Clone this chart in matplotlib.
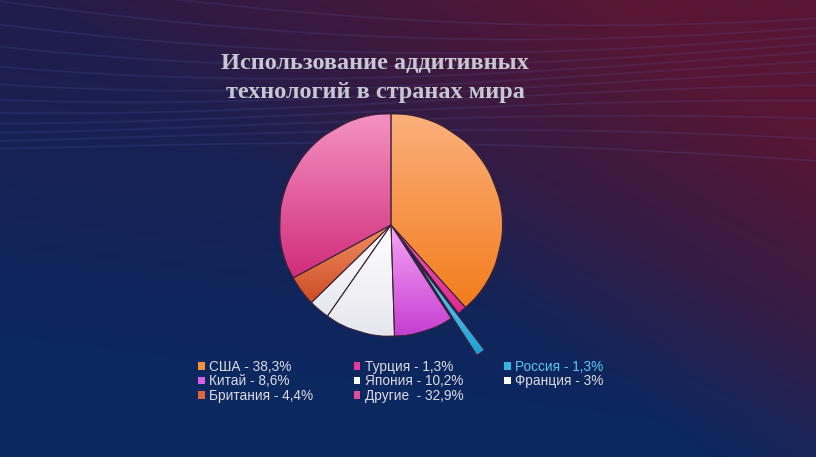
import numpy as np
import matplotlib
matplotlib.use('Agg')
from matplotlib import pyplot as plt
from matplotlib.colors import LinearSegmentedColormap
from matplotlib.patches import Patch

# data
labels = ['США - 38,3%', 'Турция - 1,3%', 'Россия - 1,3%', 'Китай - 8,6%',
          'Япония - 10,2%', 'Франция - 3%', 'Британия - 4,4%', 'Другие  - 32,9%']
shares = [38.3, 1.3, 1.3, 8.6, 10.2, 3.0, 4.4, 32.9]
explode = [0, 0, 0.45, 0, 0, 0, 0, 0]
# (top colour, bottom colour) for the shaded slices
colors_top = ['#fbb07c', '#f35cb6', '#6ad6f7', '#f8a4f8', '#ffffff', '#ffffff', '#f29064', '#f592c2']
colors_bot = ['#f37c1c', '#de2a8e', '#1f9fd6', '#c43ed0', '#e6e6ee', '#e6e6ee', '#cc4c26', '#d02c7a']
legend_colors = ['#f7923a', '#e8389c', '#3ab4e2', '#d860e4', '#ffffff', '#ffffff', '#e0683e', '#e24c98']
title = 'Использование аддитивных\nтехнологий в странах мира'

W, H = 816, 457
fig = plt.figure(figsize=(W / 100, H / 100), dpi=100)

# background gradient
bg = fig.add_axes([0, 0, 1, 1])
bg.set_axis_off()
yy, xx = np.mgrid[0:1:200j, 0:1:300j]   # yy: 0 top -> 1 bottom
navy = np.array([12, 40, 96]) / 255
purple = np.array([34, 28, 74]) / 255
maroon = np.array([88, 22, 52]) / 255
w1 = np.clip(1.1 - yy * 1.3 + (xx - 0.5) * 0.3, 0, 1)[..., None]
w2 = np.clip((xx - 0.45) * 1.4 + (0.5 - yy) * 1.2, 0, 1)[..., None]
img = navy * (1 - w1) + purple * w1
img = img * (1 - w2) + maroon * w2
bg.imshow(img, extent=[0, 1, 0, 1], aspect='auto', origin='upper')
# faint wave lines in the upper part
t = np.linspace(0, 1, 300)
for k in range(12):
    y0 = 1.05 - k * 0.035
    bg.plot(t, y0 - 0.06 * np.sin(2.4 * t + k * 0.3) - 0.10 * t + 0.05 * t ** 2,
            color='#6a7ad0', alpha=0.13, lw=1.3)
bg.set_xlim(0, 1)
bg.set_ylim(0, 1)

# pie
cx, cy, half = 391, 225, 150
ax = fig.add_axes([(cx - half) / W, (H - cy - half) / H, 2 * half / W, 2 * half / H])
ax.set_axis_off()
wedges, _ = ax.pie(shares, explode=explode, startangle=90, counterclock=False,
                   radius=1.11, colors=legend_colors,
                   wedgeprops=dict(edgecolor='#3b2238', linewidth=0.7))

grad = np.linspace(0, 1, 256).reshape(-1, 1)
for wdg, ct, cb in zip(wedges, colors_top, colors_bot):
    ext = wdg.get_path().get_extents()
    cmap = LinearSegmentedColormap.from_list('g', [ct, cb])
    im = ax.imshow(grad, cmap=cmap, extent=[ext.x0, ext.x1, ext.y0, ext.y1],
                   origin='upper', aspect='auto', zorder=wdg.get_zorder() + 0.1)
    im.set_clip_path(wdg)
    ax.add_patch(plt.Polygon(wdg.get_path().vertices, closed=True, fill=False,
                             edgecolor='#3b2238', lw=0.7, zorder=wdg.get_zorder() + 0.2))
ax.set_xlim(-1.5, 1.5)
ax.set_ylim(-1.5, 1.5)
ax.set_aspect('equal')

# title
fig.text(375 / W, 1 - 78 / H, title, ha='center', va='center', fontsize=17.5,
         family='Liberation Serif', fontweight='bold', color='#c8c8d2', linespacing=1.5)

# legend (row-major order in the picture -> column-major for matplotlib)
order = [0, 3, 6, 1, 4, 7, 2, 5]
handles = [Patch(facecolor=legend_colors[i], edgecolor='none') for i in order]
leg = fig.legend(handles, [labels[i] for i in order], ncol=3, loc='upper left',
                 bbox_to_anchor=(191 / W, 1 - 353 / H), frameon=False,
                 prop={'family': 'Liberation Sans', 'size': 9.8},
                 handlelength=0.5, handleheight=0.5, handletextpad=0.3,
                 columnspacing=3.0, labelspacing=0.04, borderpad=0)
for txt, i in zip(leg.get_texts(), order):
    txt.set_color('#5cc8f2' if i == 2 else '#dcdce4')

fig.savefig('out.png', dpi=100)
